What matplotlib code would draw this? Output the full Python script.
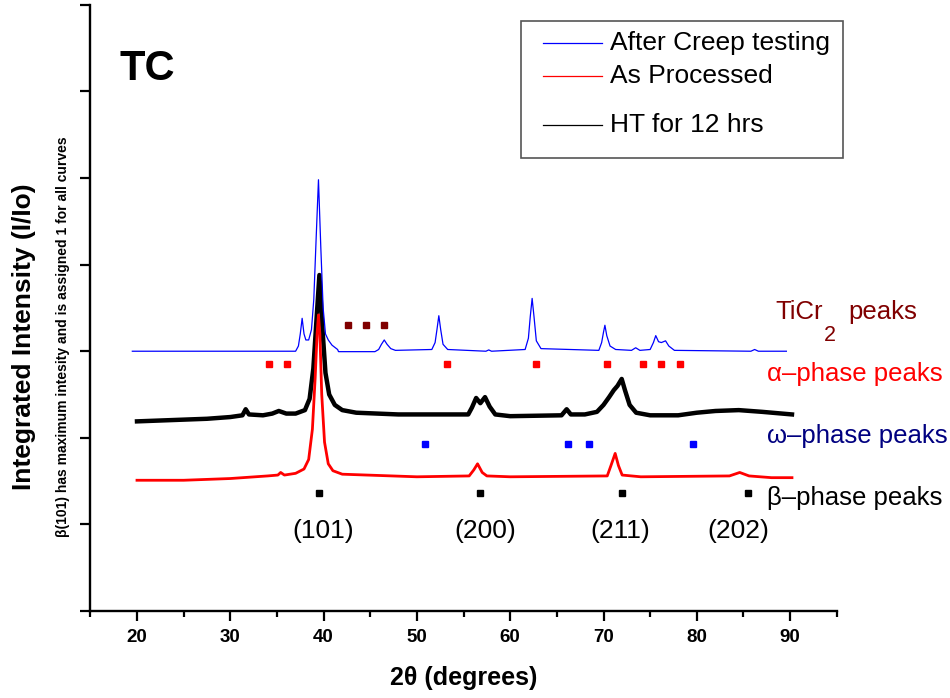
import matplotlib
matplotlib.use("Agg")
import matplotlib.pyplot as plt
from matplotlib.patches import Rectangle
from matplotlib.lines import Line2D

plt.rcParams['font.family'] = ['Liberation Sans', 'DejaVu Sans']

# ---- data (2theta in degrees, offset normalised intensity) ----
# After Creep testing (blue)
creep_tt = [19.5, 37.0, 37.3, 37.5, 37.7, 37.9, 38.1, 38.4, 38.7, 38.95, 39.2, 39.45, 39.7,
            39.95, 40.2, 40.5, 40.9, 41.5, 41.6, 45.5, 45.9, 46.2, 46.5, 46.8, 47.2, 47.7,
            51.6, 51.95, 52.15, 52.35, 52.55, 52.8, 53.3, 57.4, 57.7, 58.0, 61.6, 61.95,
            62.15, 62.35, 62.55, 62.8, 63.3, 69.5, 69.8, 70.0, 70.15, 70.35, 70.7, 71.3,
            73.0, 73.45, 73.9, 75.0, 75.35, 75.6, 75.9, 76.2, 76.65, 77.0, 77.6, 85.8,
            86.2, 86.6, 89.6]
creep_int = [3.0, 3.0, 3.06, 3.2, 3.38, 3.2, 3.13, 3.13, 3.25, 3.6, 4.3, 4.98, 4.2,
             3.5, 3.2, 3.13, 3.07, 3.02, 2.995, 2.995, 3.02, 3.08, 3.13, 3.08, 3.03, 3.01,
             3.02, 3.1, 3.25, 3.41, 3.25, 3.08, 3.02, 3.0, 3.015, 3.0, 3.02, 3.15,
             3.4, 3.61, 3.4, 3.12, 3.03, 3.01, 3.1, 3.22, 3.30, 3.18, 3.06, 3.02,
             3.01, 3.04, 3.01, 3.02, 3.1, 3.18, 3.11, 3.1, 3.12, 3.06, 3.01, 3.0,
             3.02, 3.0, 3.0]

# HT for 12 hrs (black)
ht_tt = [20.0, 22.5, 25.0, 27.5, 30.0, 31.3, 31.65, 32.0, 33.5, 34.5, 35.2, 36.0, 37.0,
         38.0, 38.5, 38.9, 39.2, 39.55, 39.85, 40.2, 40.6, 41.2, 42.0, 43.5, 48.0, 52.0,
         55.5, 55.9, 56.35, 56.8, 57.3, 57.8, 58.4, 60.0, 65.5, 66.05, 66.5, 68.0, 69.3,
         70.0, 70.6, 71.1, 71.5, 71.95, 72.3, 72.8, 73.5, 75.0, 78.0, 80.0, 82.0, 84.5,
         87.0, 90.2]
ht_int = [2.19, 2.20, 2.21, 2.22, 2.24, 2.26, 2.33, 2.27, 2.26, 2.28, 2.31, 2.28, 2.28,
          2.32, 2.45, 2.8, 3.3, 3.88, 3.3, 2.75, 2.5, 2.38, 2.32, 2.29, 2.27, 2.27,
          2.27, 2.35, 2.46, 2.40, 2.47, 2.36, 2.27, 2.25, 2.26, 2.33, 2.27, 2.27, 2.30,
          2.38, 2.47, 2.55, 2.6, 2.68, 2.55, 2.38, 2.29, 2.26, 2.26, 2.29, 2.31, 2.32,
          2.30, 2.27]

# As Processed (red)
ap_tt = [20.0, 25.0, 30.0, 34.0, 35.1, 35.4, 35.8, 37.0, 37.9, 38.4, 38.8, 39.1, 39.3,
         39.45, 39.6, 39.8, 40.1, 40.5, 41.0, 42.0, 50.0, 55.6, 56.1, 56.5, 57.0, 57.5,
         60.0, 70.4, 70.8, 71.25, 71.6, 72.0, 74.0, 83.5, 84.6, 85.6, 88.0, 90.2]
ap_int = [1.51, 1.51, 1.53, 1.56, 1.57, 1.60, 1.57, 1.59, 1.64, 1.75, 2.1, 2.7, 3.2,
          3.42, 3.2, 2.5, 1.95, 1.7, 1.62, 1.58, 1.55, 1.56, 1.63, 1.70, 1.60, 1.56,
          1.55, 1.56, 1.68, 1.82, 1.68, 1.57, 1.55, 1.56, 1.60, 1.56, 1.54, 1.54]

# phase peak markers
ticr2_pos = [42.65, 44.57, 46.5]
ticr2_lvl = 3.30
alpha_pos = [34.17, 36.1, 53.27, 62.8, 70.4, 74.27, 76.2, 78.17]
alpha_lvl = 2.85
omega_pos = [50.9, 66.2, 68.45, 79.63]
omega_lvl = 1.93
beta_pos = [39.54, 56.8, 72.02, 85.46]
beta_lvl = 1.36

hkl_labels = ["(101)", "(200)", "(211)", "(202)"]
hkl_pos = [39.93, 57.36, 71.77, 84.42]

fig = plt.figure(figsize=(9.5, 6.98), dpi=100)
ax = fig.add_axes([0.0951, 0.1246, 0.7857, 0.8685])

ax.plot(ht_tt, ht_int, color="black", lw=3.2, solid_joinstyle="round")
ax.plot(ap_tt, ap_int, color="red", lw=2.0, solid_joinstyle="round")
ax.plot(creep_tt, creep_int, color="blue", lw=0.9)

ms = 5
ax.plot(ticr2_pos, [ticr2_lvl] * len(ticr2_pos), "s", color="#800000", ms=ms)
ax.plot(alpha_pos, [alpha_lvl] * len(alpha_pos), "s", color="red", ms=ms)
ax.plot(omega_pos, [omega_lvl] * len(omega_pos), "s", color="blue", ms=ms)
ax.plot(beta_pos, [beta_lvl] * len(beta_pos), "s", color="black", ms=ms)

for lab, x in zip(hkl_labels, hkl_pos):
    ax.text(x, 0.92, lab, fontsize=19, ha="center", va="center")

# phase labels on the right
fs = 18.5
ax.text(88.39, 3.37, "TiCr", color="#800000", fontsize=fs, va="baseline", clip_on=False)
ax.text(93.6, 3.12, "2", color="#800000", fontsize=15.5, va="baseline", clip_on=False)
ax.text(96.2, 3.37, "peaks", color="#800000", fontsize=fs, va="baseline", clip_on=False)
ax.text(87.5, 2.656, "α–phase peaks", color="red", fontsize=fs, va="baseline", clip_on=False)
ax.text(87.5, 1.944, "ω–phase peaks", color="#000080", fontsize=fs, va="baseline", clip_on=False)
ax.text(87.5, 1.224, "β–phase peaks", color="black", fontsize=fs, va="baseline", clip_on=False)

ax.text(18.1, 6.26, "TC", fontsize=30, fontweight="bold", va="center")

# legend box drawn by hand (uneven row spacing in the original)
ax.add_patch(Rectangle((61.17, 5.234), 95.7 - 61.17, 6.813 - 5.234, fill=False,
                       edgecolor="#555555", lw=1.2, clip_on=False))
leg = [("After Creep testing", "blue", 6.555),
       ("As Processed", "red", 6.178),
       ("HT for 12 hrs", "black", 5.609)]
for name, col, yy in leg:
    ax.add_line(Line2D([63.55, 69.81], [yy, yy], color=col, lw=0.9, clip_on=False))
    ax.text(70.7, yy, name, fontsize=19, va="center", clip_on=False)

ax.set_xlim(15, 95)
ax.set_ylim(0, 7)
ax.set_xticks(range(20, 91, 10))
ax.set_xticks(range(15, 96, 10), minor=True)
ax.set_yticks(range(0, 8))
ax.set_yticklabels([])
for s in ["top", "right"]:
    ax.spines[s].set_visible(False)
for s in ["left", "bottom"]:
    ax.spines[s].set_linewidth(1.7)
ax.tick_params(axis="x", which="major", length=7, width=1.6, labelsize=13.5, pad=6)
ax.tick_params(axis="x", which="minor", length=4, width=1.6)
ax.tick_params(axis="y", which="major", length=7, width=1.6)
for lbl in ax.get_xticklabels():
    lbl.set_fontweight("bold")

ax.set_xlabel("2θ (degrees)", fontsize=18, fontweight="bold", labelpad=14)
fig.text(24 / 950, 1 - 337 / 698, "Integrated Intensity (I/Io)", rotation=90,
         fontsize=19, fontweight="bold", ha="center", va="center")
fig.text(63 / 950, 1 - 337 / 698,
         "β(101) has maximum intesity and is assigned 1 for all curves", rotation=90,
         fontsize=10, fontweight="bold", ha="center", va="center")

fig.savefig("out.png", dpi=100)
